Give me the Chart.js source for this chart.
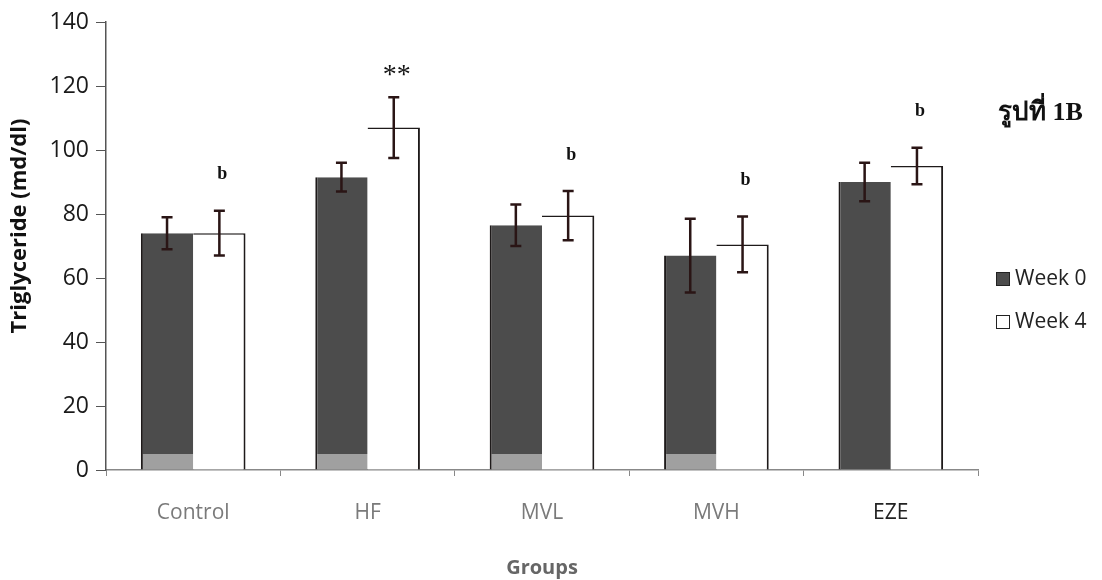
<!DOCTYPE html>
<html>
<head>
<meta charset="utf-8">
<script src="https://cdn.jsdelivr.net/npm/chart.js@4.4.0/dist/chart.umd.min.js"></script>
<style>
  html, body { margin: 0; padding: 0; background: #fff; }
  #wrap { width: 1102px; height: 580px; position: relative; }
</style>
</head>
<body>
<div id="wrap"><canvas id="chart" width="1102" height="580"></canvas></div>
<script>
const groups = ['Control', 'HF', 'MVL', 'MVH', 'EZE'];
const week0 = [74, 91.5, 76.5, 67, 90];
const week4 = [74, 107, 79.5, 70.5, 95];
const week0Err = [5, 4.5, 6.5, 11.5, 6];
const week4Err = [7, 9.5, 7.7, 8.7, 5.7];
const marks = ['b', '**', 'b', 'b', 'b'];
const yTicks = [0, 20, 40, 60, 80, 100, 120, 140];

const darkFill = '#4c4c4c';
const edge = '#1e1a1a';
const sans = '"Open Sans", "Noto Sans", sans-serif';

function darkBar(ctx) {
  const chart = ctx.chart;
  if (!chart.chartArea || ctx.dataIndex === 4) return darkFill;
  const y = chart.scales.y;
  const g = chart.ctx.createLinearGradient(0, y.getPixelForValue(0), 0, y.getPixelForValue(140));
  const stop = 5 / 140;
  g.addColorStop(0, '#a0a0a0');
  g.addColorStop(stop, '#a0a0a0');
  g.addColorStop(stop + 0.0001, darkFill);
  g.addColorStop(1, darkFill);
  return g;
}

const errorBars = {
  id: 'errorBars',
  afterDatasetsDraw(chart) {
    const { ctx } = chart;
    const y = chart.scales.y;
    const errs = [week0Err, week4Err];
    ctx.save();
    ctx.strokeStyle = '#2a1515';
    ctx.lineWidth = 2.5;
    chart.data.datasets.forEach((ds, di) => {
      chart.getDatasetMeta(di).data.forEach((bar, i) => {
        const v = ds.data[i];
        const e = errs[di][i];
        const top = y.getPixelForValue(v + e);
        const bot = y.getPixelForValue(v - e);
        const x = bar.x;
        ctx.beginPath();
        ctx.moveTo(x, top); ctx.lineTo(x, bot);
        ctx.moveTo(x - 5.5, top); ctx.lineTo(x + 5.5, top);
        ctx.moveTo(x - 5.5, bot); ctx.lineTo(x + 5.5, bot);
        ctx.stroke();
      });
    });
    // significance marks above Week 4 bars
    ctx.fillStyle = '#111';
    ctx.textAlign = 'center';
    ctx.textBaseline = 'middle';
    chart.getDatasetMeta(1).data.forEach((bar, i) => {
      const top = y.getPixelForValue(week4[i] + week4Err[i]);
      if (marks[i] === '**') {
        ctx.font = '28px "Liberation Serif", serif';
        ctx.fillText(marks[i], bar.x + 3, top - 22);
      } else {
        ctx.font = 'bold 18px "Liberation Serif", serif';
        ctx.fillText(marks[i], bar.x + 3, top - 36);
      }
    });
    ctx.restore();
  }
};

const sideText = {
  id: 'sideText',
  afterDraw(chart) {
    const { ctx } = chart;
    ctx.save();
    ctx.textBaseline = 'middle';
    ctx.textAlign = 'left';
    ctx.font = 'bold 26px "Liberation Serif", serif';
    ctx.fillStyle = '#111';
    ctx.fillText('รูปที่ 1B', 998, 113);

    ctx.font = '21px ' + sans;
    ctx.strokeStyle = '#222';
    ctx.lineWidth = 1;
    ctx.fillStyle = darkFill;
    ctx.fillRect(996, 272, 13, 13);
    ctx.strokeRect(996.5, 272.5, 13, 13);
    ctx.fillStyle = '#222';
    ctx.fillText('Week 0', 1015, 279);
    ctx.fillStyle = '#fff';
    ctx.fillRect(996, 315, 13, 13);
    ctx.strokeRect(996.5, 315.5, 13, 13);
    ctx.fillStyle = '#222';
    ctx.fillText('Week 4', 1015, 322);

    // y axis title
    ctx.translate(20, 226);
    ctx.rotate(-Math.PI / 2);
    ctx.textAlign = 'center';
    ctx.font = 'bold 22px ' + sans;
    ctx.fillStyle = '#111';
    ctx.fillText('Triglyceride (md/dl)', 0, 0);
    ctx.restore();
  }
};

new Chart(document.getElementById('chart'), {
  type: 'bar',
  data: {
    labels: groups,
    datasets: [
      { label: 'Week 0', data: week0, backgroundColor: darkBar, borderColor: edge, borderWidth: { left: 2, right: 0, top: 0, bottom: 0 }, borderSkipped: false },
      { label: 'Week 4', data: week4, backgroundColor: '#ffffff', borderColor: edge, borderWidth: { left: 0, right: 2, top: 1.5, bottom: 0 }, borderSkipped: false }
    ]
  },
  options: {
    responsive: false,
    animation: false,
    layout: { padding: { top: 22, right: 124, left: 0, bottom: 0 } },
    categoryPercentage: 0.6,
    barPercentage: 1.0,
    plugins: { legend: { display: false }, tooltip: { enabled: false } },
    scales: {
      x: {
        grid: { display: true, drawOnChartArea: false, offset: true, tickLength: 6, color: '#888', lineWidth: 1 },
        border: { display: true, color: '#888', width: 1.5 },
        ticks: {
          padding: 24,
          font: { family: sans, size: 21 },
          color: (c) => c.index === 4 ? '#222' : '#7a7a7a'
        },
        title: {
          display: true, text: 'Groups', color: '#666',
          font: { family: sans, size: 20, weight: 'bold' },
          padding: { top: 0, bottom: 0 }
        },
        afterFit(scale) { scale.height = 110; }
      },
      y: {
        min: 0, max: 140,
        afterBuildTicks(scale) { scale.ticks = yTicks.map((v) => ({ value: v })); },
        grid: { display: true, drawOnChartArea: false, tickLength: 10, color: '#555' },
        border: { display: true, color: '#555', width: 1.5 },
        ticks: {
          padding: 7,
          font: { family: sans, size: 23 },
          color: '#1a1a1a'
        },
        afterFit(scale) { scale.width = 106; }
      }
    }
  },
  plugins: [errorBars, sideText]
});
</script>
</body>
</html>
